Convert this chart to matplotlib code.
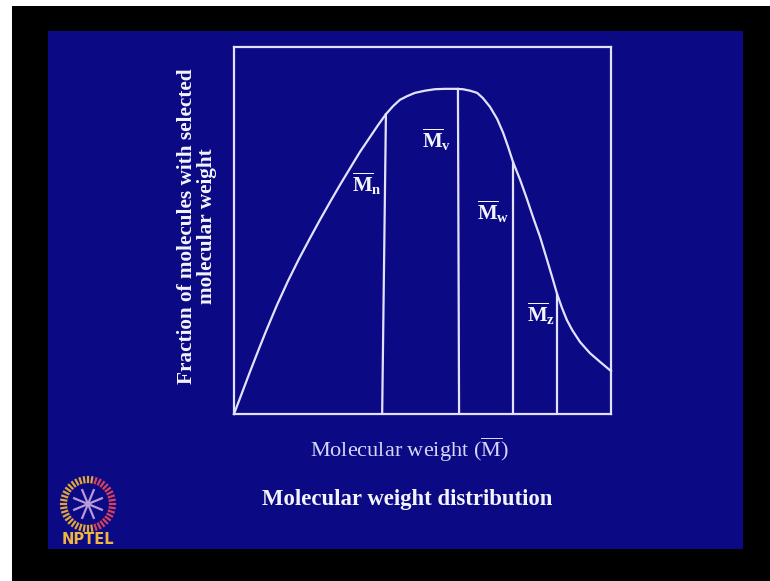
import numpy as np
import matplotlib
matplotlib.use("Agg")
import matplotlib.pyplot as plt
from matplotlib.patches import Rectangle, Circle

plt.rcParams["mathtext.fontset"] = "custom"
plt.rcParams["mathtext.rm"] = "Liberation Serif"
plt.rcParams["mathtext.bf"] = "Liberation Serif:bold"
plt.rcParams["mathtext.it"] = "Liberation Serif:italic"

# Distribution curve (molecular weight, fraction) on a 0-100 relative scale
mw = [0, 2.1, 4.2, 6.4, 8.5, 11.4, 14.3, 17.2, 20.2, 22.8, 25.5, 28.1,
      30.8, 33.4, 36.1, 38.2, 40.3, 42.2, 44.0, 45.9, 48.0, 50.7, 53.3,
      56.0, 58.6, 60.7, 62.6, 64.5, 66.0, 67.9, 69.8, 71.4, 72.7, 74.0,
      75.9, 77.7, 79.3, 81.2, 82.8, 84.4, 85.7, 87.0, 88.3, 89.7, 91.8,
      94.4, 97.1, 100]
fraction = [0, 5.7, 11.4, 17.2, 22.6, 29.7, 36.2, 42.2, 48.0, 52.9, 57.8,
            62.4, 67.0, 71.4, 75.5, 78.7, 81.7, 83.9, 85.6, 86.6, 87.5,
            88.1, 88.5, 88.6, 88.6, 88.5, 88.1, 87.5, 86.1, 83.7, 80.4,
            76.6, 72.8, 68.7, 63.8, 58.6, 53.7, 48.2, 42.8, 37.3, 32.7,
            28.9, 25.6, 22.9, 19.6, 16.6, 14.2, 11.7]

# Average molecular weights: position at base, position at curve, height
avg_names = [r"$\overline{\mathbf{M}}_{\mathbf{n}}$",
             r"$\overline{\mathbf{M}}_{\mathbf{v}}$",
             r"$\overline{\mathbf{M}}_{\mathbf{w}}$",
             r"$\overline{\mathbf{M}}_{\mathbf{z}}$"]
avg_x_base = [39.3, 59.7, 74.0, 85.7]
avg_x_top = [40.3, 59.4, 74.0, 85.7]
avg_height = [81.7, 88.6, 68.7, 32.7]

W, H = 770, 581
BLUE = "#0b0a84"
LINE = "#e2e2ff"
TEXT = "#f4f4ff"


def fx(x):
    return x / W


def fy(y):
    return 1 - y / H


fig = plt.figure(figsize=(W / 100, H / 100), dpi=100, facecolor="black")

# slide background and frame strips
fig.add_artist(Rectangle((0, fy(6)), 1, 6 / H, transform=fig.transFigure,
                         color="white", lw=0, zorder=-10))
fig.add_artist(Rectangle((0, 0), 12 / W, 1, transform=fig.transFigure,
                         color="white", lw=0, zorder=-10))
fig.add_artist(Rectangle((fx(48), fy(549)), (743 - 48) / W, (549 - 31) / H,
                         transform=fig.transFigure, color=BLUE, lw=0,
                         zorder=-10))

ax = fig.add_axes([fx(234), fy(414), 377 / W, 367 / H])
ax.set_zorder(5)
ax.set_facecolor("none")
ax.set_xlim(0, 100)
ax.set_ylim(0, 100)
ax.set_xticks([])
ax.set_yticks([])
for s in ax.spines.values():
    s.set_color(LINE)
    s.set_linewidth(1.6)

ax.plot(mw, fraction, color=LINE, lw=1.6, solid_joinstyle="round",
        clip_on=False)
for xb, xt, h in zip(avg_x_base, avg_x_top, avg_height):
    ax.plot([xb, xt], [0, h], color=LINE, lw=1.6)

label_pos = [(31.3, 60.5), (49.9, 72.5), (64.5, 52.9), (77.7, 25.1)]
for name, (lx, ly) in zip(avg_names, label_pos):
    ax.text(lx, ly, name, color=TEXT, fontsize=15, ha="left", va="baseline")

fig.text(fx(197), fy(226),
         "Fraction of molecules with selected\nmolecular weight",
         rotation=90, ha="center", va="center", multialignment="center",
         family="Liberation Serif", fontweight="bold", fontsize=15.3,
         color=TEXT, linespacing=0.95)

fig.text(fx(409), fy(450), r"Molecular weight ($\overline{\mathrm{M}}$)",
         ha="center", va="center", family="Liberation Serif", fontsize=16,
         color="#d6d6fa")

fig.text(fx(407), fy(500), "Molecular weight distribution",
         ha="center", va="center", family="Liberation Serif",
         fontweight="bold", fontsize=16.4, color=TEXT)

# NPTEL emblem
cx, cy, r = 88, 504, 27
for ang in np.arange(0, 360, 9):
    a = np.deg2rad(ang)
    col = "#e0a63a" if np.cos(a) < 0.2 else "#d9405a"
    x0, y0 = cx + (r - 5) * np.cos(a), cy - (r - 5) * np.sin(a)
    x1, y1 = cx + r * np.cos(a), cy - r * np.sin(a)
    fig.add_artist(plt.Line2D([fx(x0), fx(x1)], [fy(y0), fy(y1)],
                              transform=fig.transFigure, color=col, lw=1.6))
for ang in np.arange(0, 360, 45):
    a = np.deg2rad(ang + 22.5)
    fig.add_artist(plt.Line2D([fx(cx), fx(cx + 15 * np.cos(a))],
                              [fy(cy), fy(cy - 15 * np.sin(a))],
                              transform=fig.transFigure, color="#b79ad8",
                              lw=1.6))
fig.add_artist(Circle((fx(cx), fy(cy)), 3 / W, transform=fig.transFigure,
                      color="#e0507a", lw=0))
fig.text(fx(62), fy(540), "NPTEL", ha="left", va="center",
         family="DejaVu Sans", fontweight="bold", fontsize=10.5,
         color="#f0b540")

fig.savefig("out.png", dpi=100, facecolor="black")
